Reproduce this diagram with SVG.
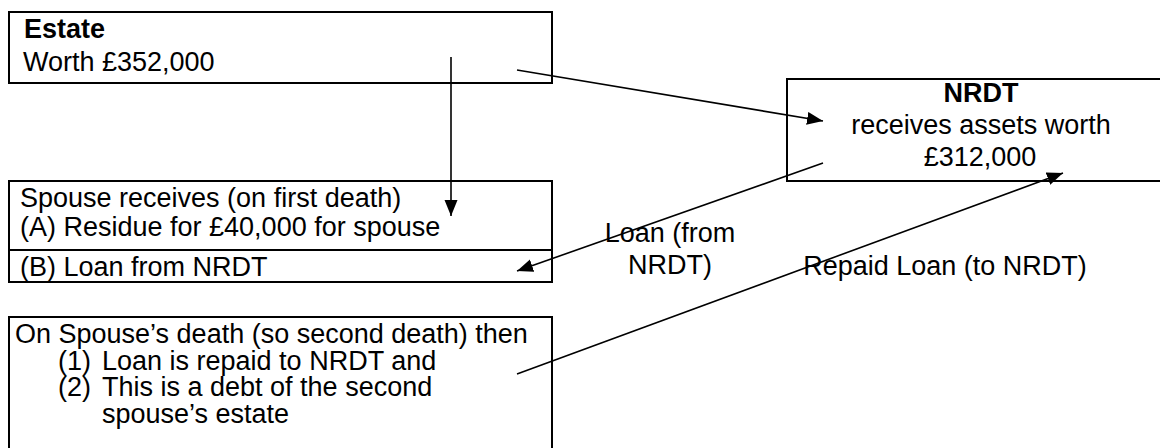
<svg xmlns="http://www.w3.org/2000/svg" width="1160" height="448" viewBox="0 0 1160 448">
<defs>
<style>
.box{fill:#fff;stroke:#000;stroke-width:2}
.t{font-family:"Liberation Sans",Arial,sans-serif;font-size:27px;fill:#000}
.b{font-weight:bold}
.c{text-anchor:middle}
.ln{stroke:#000;stroke-width:1.6;fill:none;marker-end:url(#ah)}
</style>
<marker id="ah" markerUnits="userSpaceOnUse" markerWidth="16" markerHeight="14" refX="16" refY="6.5" orient="auto">
<path d="M0,0 L16,6.5 L0,13 z" fill="#000"/>
</marker>
</defs>
<rect width="1160" height="448" fill="#fff"/>
<g id="estate">
<rect class="box" x="9" y="12" width="543" height="71"/>
<text class="t b" x="24" y="38">Estate</text>
<text class="t" x="23" y="71">Worth £352,000</text>
</g>
<g id="nrdt">
<rect class="box" x="787" y="79" width="400" height="102"/>
<text class="t b c" x="981" y="102">NRDT</text>
<text class="t c" x="981" y="134">receives assets worth</text>
<text class="t c" x="980" y="166">£312,000</text>
</g>
<g id="spouse">
<rect class="box" x="9" y="181" width="543" height="101"/>
<line x1="9" y1="250" x2="552" y2="250" stroke="#000" stroke-width="2"/>
<text class="t" x="20" y="207">Spouse receives (on first death)</text>
<text class="t" x="20" y="236">(A) Residue for £40,000 for spouse</text>
<text class="t" x="20" y="276">(B) Loan from NRDT</text>
</g>
<g id="second-death">
<rect class="box" x="9" y="317" width="543" height="140"/>
<text class="t" x="15" y="343">On Spouse’s death (so second death) then</text>
<text class="t" x="58" y="370">(1)</text>
<text class="t" x="102" y="370">Loan is repaid to NRDT and</text>
<text class="t" x="58" y="396">(2)</text>
<text class="t" x="102" y="396">This is a debt of the second</text>
<text class="t" x="102" y="423">spouse’s estate</text>
</g>
<g id="labels">
<text class="t c" x="670" y="242">Loan (from</text>
<text class="t c" x="670" y="274">NRDT)</text>
<text class="t c" x="945" y="275">Repaid Loan (to NRDT)</text>
</g>
<g id="connectors">
<line class="ln" x1="451" y1="57" x2="451" y2="216"/>
<line class="ln" x1="517" y1="70" x2="823" y2="121"/>
<line class="ln" x1="823" y1="163" x2="517" y2="271"/>
<line class="ln" x1="517" y1="374" x2="1063" y2="173"/>
</g>
</svg>
